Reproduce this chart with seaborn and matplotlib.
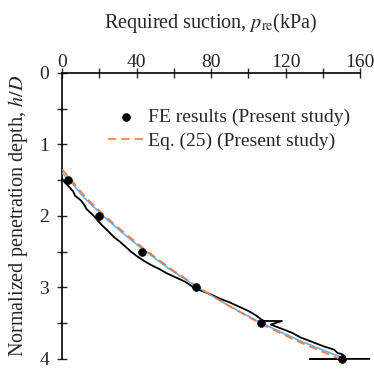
"""Required suction vs normalized penetration depth"""

import numpy as np
import pandas as pd
import seaborn as sns
import matplotlib.pyplot as plt
from matplotlib.ticker import MultipleLocator

sns.set_style("white")
plt.rcParams['font.family'] = ['Liberation Serif', 'DejaVu Serif']
plt.rcParams['mathtext.fontset'] = 'stix'

# FE results (Present study)
fe_p = [3, 20, 43, 72, 107, 150]
fe_h = [1.5, 2.0, 2.5, 3.0, 3.5, 4.0]

# measured (black, jagged) curve
meas_p = [0, 1, 4, 6, 7, 10, 12, 13, 15, 17, 19, 21, 23, 25, 28, 31, 34, 37, 40, 44,
          48, 52, 56, 61, 66, 70, 75, 80, 85, 90, 95, 100, 104, 108, 118, 112,
          116, 123, 128, 133, 137, 141, 146, 148, 150, 152, 150, 133, 165]
meas_h = [1.48, 1.52, 1.6, 1.66, 1.72, 1.78, 1.85, 1.9, 1.95, 2.0, 2.06, 2.12, 2.17, 2.22,
          2.3, 2.36, 2.43, 2.5, 2.56, 2.63, 2.69, 2.74, 2.8, 2.86, 2.92, 2.99, 3.05,
          3.1, 3.16, 3.21, 3.27, 3.33, 3.39, 3.47, 3.47, 3.52, 3.56, 3.63,
          3.7, 3.75, 3.79, 3.83, 3.87, 3.92, 3.93, 3.97, 4.0, 4.0, 4.0]

# blue fitted curve
blue_p = [0, 4, 12, 22, 33, 45, 58, 73, 89, 107, 128, 152]
blue_h = [1.4, 1.5, 1.75, 2.0, 2.25, 2.5, 2.75, 3.0, 3.25, 3.5, 3.75, 4.0]

# Eq. (25) (Present study)
eq_p = [0, 5, 13, 23, 34, 46, 59, 73, 89, 106, 126, 149]
eq_h = [1.35, 1.5, 1.75, 2.0, 2.25, 2.5, 2.75, 3.0, 3.25, 3.5, 3.75, 4.0]

fig = plt.figure(figsize=(3.74, 3.70), dpi=100)
ax = fig.add_axes([0.166, 0.03, 0.797, 0.773])

ax.plot(meas_p, meas_h, color='black', lw=1.3, zorder=2, clip_on=False)
sns.lineplot(x=blue_p, y=blue_h, color='#6aaee6', lw=1.2, sort=False, ax=ax, zorder=3)
sns.lineplot(x=eq_p, y=eq_h, color='#f07a48', lw=1.2, ls=(0, (5, 3)), sort=False,
             ax=ax, zorder=4, label='Eq. (25) (Present study)')
sns.scatterplot(x=fe_p, y=fe_h, color='black', s=32, edgecolor='black', ax=ax, zorder=5,
                label='FE results (Present study)', clip_on=False)

ax.set_xlim(0, 160)
ax.set_ylim(4, 0)
ax.xaxis.set_ticks_position('top')
ax.xaxis.set_label_position('top')
ax.xaxis.set_major_locator(MultipleLocator(40))
ax.xaxis.set_minor_locator(MultipleLocator(20))
ax.yaxis.set_major_locator(MultipleLocator(1))
ax.yaxis.set_minor_locator(MultipleLocator(0.5))
ax.tick_params(which='both', direction='inout', length=6.5, width=1, labelsize=14,
               top=True, bottom=False, left=True, right=False)
ax.tick_params(axis='x', pad=-2)
ax.tick_params(axis='y', pad=6)
for s in ['right', 'bottom']:
    ax.spines[s].set_visible(False)
for s in ['left', 'top']:
    ax.spines[s].set_color('black')
    ax.spines[s].set_linewidth(1.2)

ax.set_xlabel('Required suction, $p_{\\rm re}$(kPa)', fontsize=14.5, labelpad=19)
ax.set_ylabel('Normalized penetration depth, $h/D$', fontsize=14.5, labelpad=7)

h, l = ax.get_legend_handles_labels()
ax.legend(h[::-1], l[::-1], loc='upper left', bbox_to_anchor=(0.154, 0.875), frameon=False,
          fontsize=14, handlelength=1.9, handletextpad=0.15, borderaxespad=0,
          borderpad=0, labelspacing=0.3)

fig.savefig('out.png', dpi=100)
